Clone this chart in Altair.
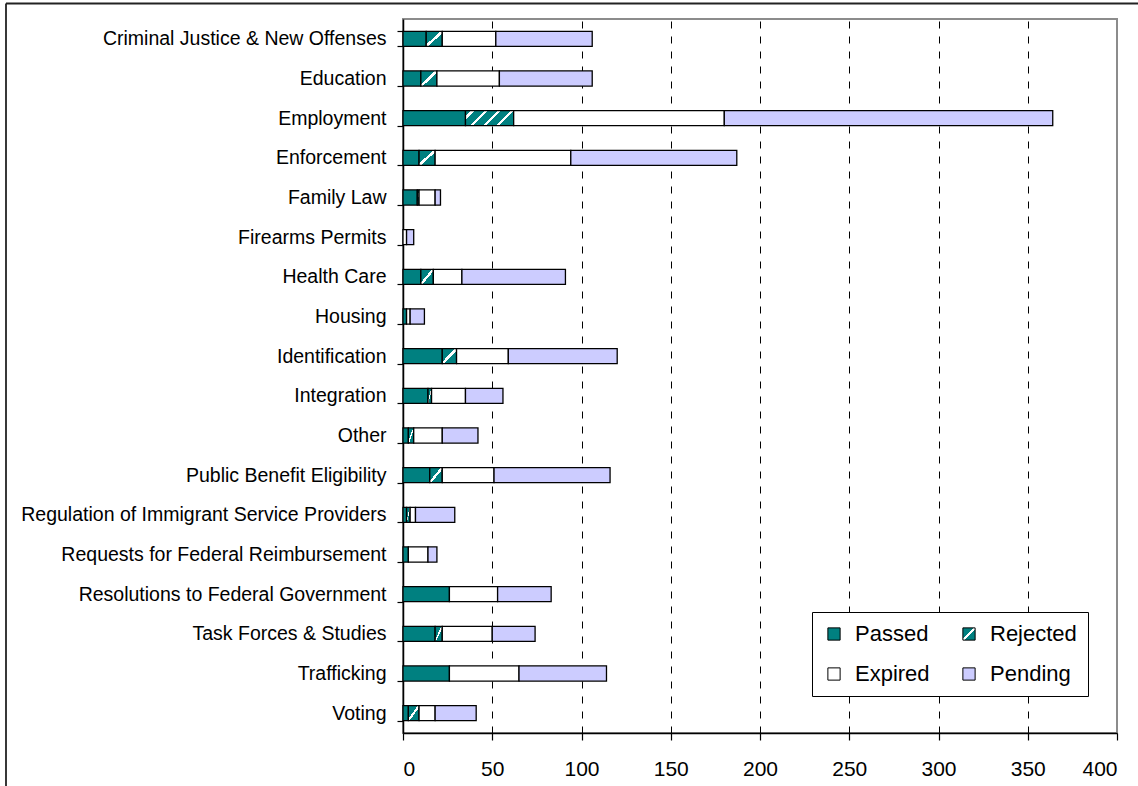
import altair as alt
import pandas as pd

categories = [
    "Criminal Justice & New Offenses", "Education", "Employment", "Enforcement",
    "Family Law", "Firearms Permits", "Health Care", "Housing", "Identification",
    "Integration", "Other", "Public Benefit Eligibility",
    "Regulation of Immigrant Service Providers", "Requests for Federal Reimbursement",
    "Resolutions to Federal Government", "Task Forces & Studies", "Trafficking", "Voting",
]
passed = [13, 10, 35, 9, 8, 0, 10, 2, 22, 14, 3, 15, 2, 3, 26, 18, 26, 3]
rejected = [9, 9, 27, 9, 1, 0, 7, 0, 8, 2, 3, 7, 2, 0, 0, 4, 0, 6]
expired = [30, 35, 118, 76, 9, 2, 16, 2, 29, 19, 16, 29, 3, 11, 27, 28, 39, 9]
pending = [54, 52, 184, 93, 3, 4, 58, 8, 61, 21, 20, 65, 22, 5, 30, 24, 49, 23]
statuses = ["Passed", "Rejected", "Expired", "Pending"]
x_ticks = [0, 50, 100, 150, 200, 250, 300, 350, 400]

rows = []
for i, cat in enumerate(categories):
    for k, (s, vals) in enumerate(zip(statuses, [passed, rejected, expired, pending])):
        v = vals[i]
        if v > 0:
            key = s
            if s == "Rejected" and v > 20:
                key = "Rejected wide"
            rows.append({"category": cat, "status": s, "order": k, "value": v, "fillkey": key})
df = pd.DataFrame(rows)

TEAL = "#008080"


def stripe_expr(x2, y2, stripes, half):
    stops = [(0, TEAL)]
    for c in stripes:
        stops += [(c - half, TEAL), (c - half, "#ffffff"), (c + half, "#ffffff"), (c + half, TEAL)]
    stops.append((1, TEAL))
    s = ", ".join("{offset: %.4f, color: '%s'}" % (o, col) for o, col in stops)
    return "{gradient: 'linear', x1: 0, y1: 0, x2: %s, y2: %s, stops: [%s]}" % (x2, y2, s)


hatch = {"expr": stripe_expr(1, 1, [0.5], 0.06)}
hatch_wide = {"expr": stripe_expr(1, 0.3125, [0.14, 0.39, 0.64, 0.89], 0.03)}

bars = alt.Chart(df).mark_bar(stroke="black", strokeWidth=1.3).encode(
    y=alt.Y(
        "category:N", sort=categories,
        scale=alt.Scale(paddingInner=0.62, paddingOuter=0.31),
        axis=alt.Axis(
            title=None, labelFontSize=19.5, labelColor="black", labelPadding=11,
            tickBand="extent", tickSize=6, tickColor="black", tickWidth=1.2,
            domainColor="black", domainWidth=1.5, labelLimit=600,
        ),
    ),
    x=alt.X(
        "value:Q", stack="zero",
        scale=alt.Scale(domain=[0, 400], nice=False),
        axis=alt.Axis(
            title=None, values=x_ticks, grid=True, gridDash=[7, 8], gridColor="black",
            gridWidth=1,
            gridOpacity={"condition": {"test": "datum.value === 0 || datum.value === 400", "value": 0}, "value": 1},
            tickSize=7, tickColor="black", tickWidth=1.2, labelFontSize=21, labelColor="black",
            labelPadding=18, domainColor="black", domainWidth=1.5,
        ),
    ),
    color=alt.Color(
        "fillkey:N",
        scale=alt.Scale(
            domain=["Passed", "Rejected", "Expired", "Pending", "Rejected wide"],
            range=[TEAL, hatch, "#ffffff", "#ccccff", hatch_wide],
        ),
        legend=alt.Legend(
            title=None, values=statuses, orient="none", legendX=409, legendY=593,
            direction="horizontal", columns=2, symbolType="square", symbolSize=150,
            symbolStrokeColor="black", symbolStrokeWidth=1, labelFontSize=22,
            labelColor="black", labelOffset=10, strokeColor="black", fillColor="white",
            padding=11, columnPadding=28, rowPadding=18,
        ),
    ),
    order=alt.Order("order:Q"),
)

one = pd.DataFrame({"a": [0]})
frame_top = alt.Chart(one).mark_rule(color="#222222", strokeWidth=1.8).encode(
    x=alt.value(-397), x2=alt.value(760), y=alt.value(-15.5)
)
frame_left = alt.Chart(one).mark_rule(color="#222222", strokeWidth=1.8).encode(
    x=alt.value(-397), y=alt.value(-15.5), y2=alt.value(780)
)

chart = alt.layer(bars, frame_top, frame_left).properties(
    width=714, height=714,
    autosize="none",
    padding={"left": 403, "top": 19, "right": 21, "bottom": 53},
).configure(
    font="Liberation Sans",
).configure_view(
    stroke="#8c8c8c", strokeWidth=2,
)

chart.save("out.html", embed_options={"renderer": "svg", "actions": False})
